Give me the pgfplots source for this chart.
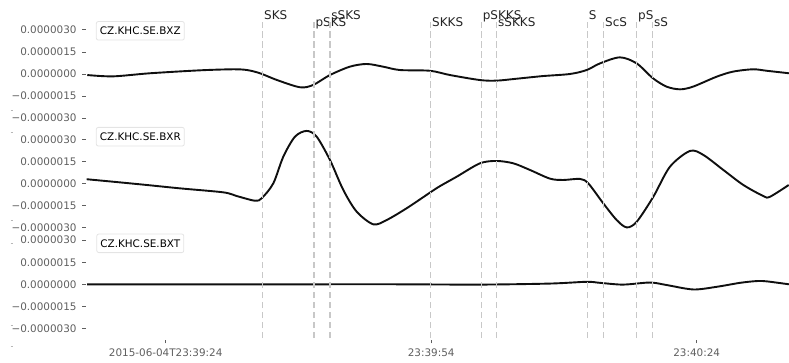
\documentclass[border=0pt]{standalone}
\usepackage{fontspec}
\setmainfont{DejaVu Sans}
\usepackage{pgfplots}
\pgfplotsset{compat=1.18}

\definecolor{tracecol}{RGB}{15,15,15}
\definecolor{phasecol}{RGB}{200,200,200}
\definecolor{tickcol}{RGB}{95,95,95}
\definecolor{phasetext}{RGB}{35,35,35}
\definecolor{boxedge}{RGB}{228,228,228}

\newcommand{\ticksize}{\fontsize{10.4pt}{12pt}\selectfont}
\newcommand{\phasesize}{\fontsize{12pt}{14pt}\selectfont}

% time axis: seconds after 2015-06-04T23:39:24, amplitudes in units of 1e-6
\pgfplotsset{
  panel/.style={
    scale only axis, anchor=south west, clip=false,
    x=8.85pt, y=14.73pt, xmin=-9.06, xmax=70.43,
    axis line style={draw=none},
    tick align=outside, major tick length=3.5pt,
    tick style={tickcol, line width=0.8pt},
    ytick={-3,-1.5,0,1.5,3},
    yticklabels={−0.0000030,−0.0000015,0.0000000,0.0000015,0.0000030},
    ytick pos=left, xtick pos=bottom,
    yticklabel style={font=\ticksize, text=tickcol, inner sep=0pt,
      text height=7.6pt, text depth=0pt, xshift=-5.3pt},
    xtick=\empty,
  },
  trace/.style={tracecol, line width=1.9pt, smooth, tension=0.5},
  phase/.style={phasecol, line width=1.5pt, dash pattern=on 6.5pt off 3.5pt},
}

\begin{document}
\begin{tikzpicture}
\path[use as bounding box] (0pt,0pt) rectangle (789pt,362pt);

% CZ.KHC.SE.BXZ
\begin{axis}[panel, at={(85.5pt,234.97pt)}, ymin=-3.6, ymax=3.55]
\addplot[trace] coordinates {
(-8.86,-0.07) (-5.95,-0.16) (-1.77,0.05) (3.88,0.25) (7.60,0.32) (9.19,0.27)
(10.66,0.05) (12.58,-0.41) (15.17,-0.90) (16.64,-0.75) (18.56,-0.07)
(20.82,0.50) (22.71,0.68) (24.55,0.50) (26.47,0.27) (29.86,0.22)
(32.12,-0.07) (35.51,-0.41) (37.40,-0.45) (39.66,-0.32) (42.63,-0.14)
(45.68,0.00) (47.57,0.27) (49.07,0.72) (51.33,1.13) (53.22,0.72)
(55.06,-0.29) (56.61,-0.86) (58.11,-1.04) (59.58,-0.86) (62.26,-0.18)
(64.10,0.16) (66.36,0.32) (67.91,0.22) (70.43,0.05)};
\end{axis}

% CZ.KHC.SE.BXR
\begin{axis}[panel, at={(85.5pt,128.42pt)}, ymin=-3.4, ymax=3.7]
\addplot[trace] coordinates {
(-8.93,0.29) (-5.92,0.12) (-2.15,-0.10) (1.62,-0.33) (6.51,-0.60)
(8.02,-0.85) (10.09,-1.17) (10.85,-1.00) (12.16,0.01) (13.29,1.82)
(14.61,3.18) (15.93,3.57) (17.06,3.18) (18.56,1.60) (20.07,-0.44)
(21.58,-1.91) (23.46,-2.77) (24.97,-2.48) (27.23,-1.68) (29.86,-0.62)
(30.99,-0.18) (32.88,0.46) (35.51,1.37) (37.40,1.53) (39.28,1.37)
(41.16,0.92) (43.42,0.33) (44.93,0.24) (46.81,0.31) (47.75,0.01)
(49.45,-1.35) (50.96,-2.48) (52.09,-2.98) (53.22,-2.60) (55.10,-0.90)
(56.98,1.14) (59.24,2.21) (60.75,1.94) (63.01,0.92) (65.27,-0.10)
(67.53,-0.85) (68.28,-0.90) (70.40,-0.10)};
\end{axis}

% CZ.KHC.SE.BXT
\begin{axis}[panel, at={(85.5pt,22.02pt)}, ymin=-3.78, ymax=3.4,
  xtick={0,30,60},
  xticklabels={2015-06-04T23:39:24,23:39:54,23:40:24},
  xticklabel style={font=\ticksize, text=tickcol, inner sep=0pt,
    text height=7.6pt, text depth=0pt, anchor=north, yshift=-5.7pt}]
\addplot[trace] coordinates {
(-8.89,0.00) (15.17,0.00) (26.47,0.00) (35.51,-0.02) (43.42,0.05)
(47.57,0.17) (49.07,0.10) (51.67,-0.02) (54.72,0.12) (56.61,-0.05)
(59.62,-0.35) (62.26,-0.17) (64.90,0.10) (66.78,0.22) (67.91,0.20)
(70.43,0.00)};
\end{axis}

% phase arrivals across all three traces
\begin{axis}[scale only axis, anchor=south west, at={(85.5pt,24pt)},
  x=8.85pt, y=1pt, xmin=-9.06, xmax=70.43, ymin=0, ymax=316.3,
  hide axis, clip=false]
\foreach \t/\lab/\yb in {10.96/SKS/318.7, 16.76/pSKS/311.3, 18.56/sSKS/318.7,
    29.94/SKKS/311.3, 35.66/pSKKS/318.7, 37.40/sSKKS/311.3,
    47.64/S/318.7, 49.49/ScS/311.3, 53.22/pS/318.7, 55.03/sS/311.3} {
  \edef\doit{\noexpand\addplot[phase] coordinates {(\t,0) (\t,316.3)};
    \noexpand\node[anchor=base west, inner sep=0pt, xshift=1.3pt,
      font=\noexpand\phasesize, text=phasetext] at (axis cs:\t,\yb) {\lab};}
  \doit
}
\end{axis}

% small stray ticks at the far left
\begin{axis}[scale only axis, anchor=south west, at={(13pt,0pt)},
  width=1pt, height=362pt, xmin=0, xmax=1, ymin=0, ymax=362,
  axis line style={draw=none}, xtick=\empty,
  ytick={252,229.3,142,118.7,37,15.3}, yticklabels={},
  ytick pos=left, tick align=outside, major tick length=2.5pt,
  tick style={tickcol!45, line width=0.7pt}]
\addplot[draw=none] coordinates {(0,0) (1,362)};
\end{axis}

% station labels
\foreach \yc/\name in {331.2/CZ.KHC.SE.BXZ, 225.3/CZ.KHC.SE.BXR, 118.7/CZ.KHC.SE.BXT} {
  \node[draw=boxedge, fill=white, rounded corners=2pt, line width=0.8pt,
    inner xsep=3.6pt, inner ysep=5.5pt, text height=7.6pt, text depth=0pt,
    font=\ticksize, text=black] at (140.3pt,\yc pt) {\name};
}
\end{tikzpicture}
\end{document}
